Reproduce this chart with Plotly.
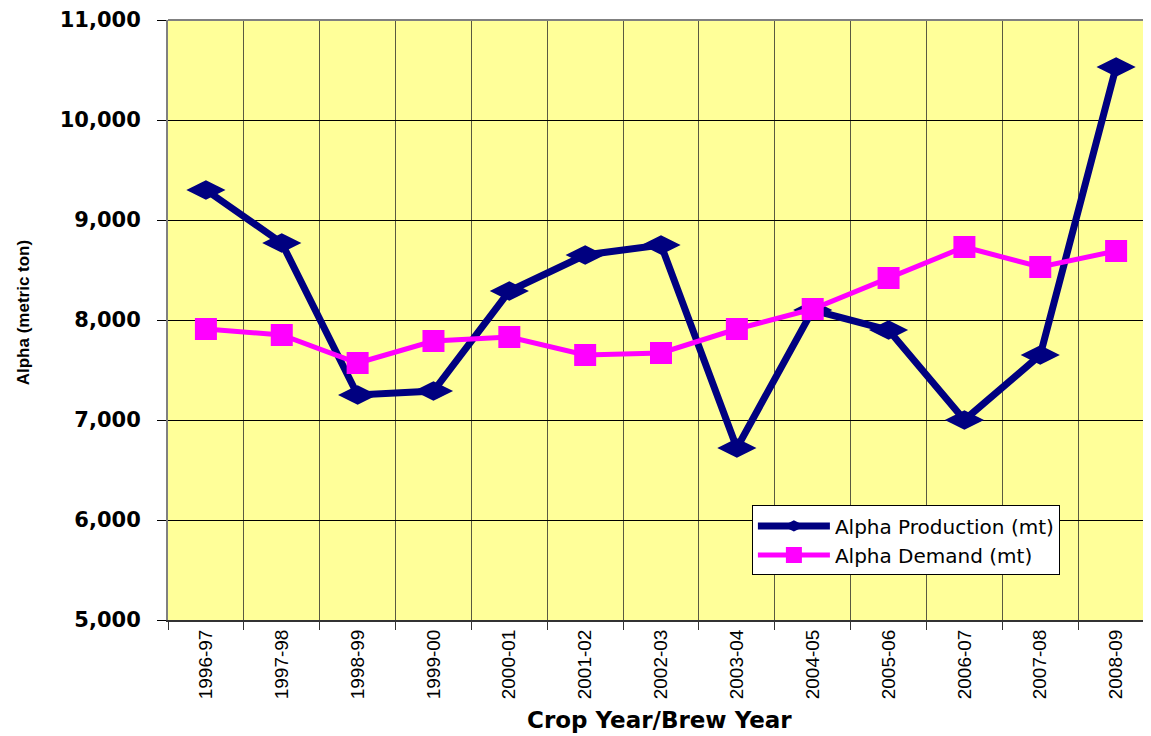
import plotly.graph_objects as go

years = ["1996-97", "1997-98", "1998-99", "1999-00", "2000-01", "2001-02", "2002-03",
         "2003-04", "2004-05", "2005-06", "2006-07", "2007-08", "2008-09"]
production = [9300, 8770, 7250, 7290, 8290, 8650, 8750, 6720, 8100, 7900, 7000, 7650, 10530]
demand = [7910, 7850, 7570, 7790, 7830, 7650, 7670, 7910, 8110, 8420, 8730, 8530, 8690]
y_ticks = [5000, 6000, 7000, 8000, 9000, 10000, 11000]

fig = go.Figure()
fig.add_trace(go.Scatter(
    x=years, y=production, mode="lines+markers", name="Alpha Production (mt)",
    line=dict(color="#000080", width=7),
    marker=dict(symbol="diamond-wide", size=28, color="#000080"),
))
fig.add_trace(go.Scatter(
    x=years, y=demand, mode="lines+markers", name="Alpha Demand (mt)",
    line=dict(color="#FF00FF", width=5),
    marker=dict(symbol="square", size=22, color="#FF00FF"),
))

fig.update_layout(
    width=1143, height=728,
    margin=dict(l=160, r=0, t=10, b=116),
    paper_bgcolor="white",
    plot_bgcolor="#FFFF99",
    showlegend=True,
    legend=dict(
        x=0.594, y=0.191, xanchor="left", yanchor="top",
        bgcolor="white", bordercolor="black", borderwidth=1,
        font=dict(family="DejaVu Sans", size=20, color="black"),
        itemwidth=72, tracegroupgap=0,
    ),
    xaxis=dict(
        type="category", range=[-0.5, 12.46], tickson="boundaries",
        showgrid=True, gridcolor="#5a5a40", gridwidth=1,
        showline=True, linecolor="#333333", linewidth=2,
        ticks="outside", ticklen=8, tickcolor="#333333",
        tickangle=-90,
        tickfont=dict(family="Liberation Sans", size=19, color="black"),
        zeroline=False,
    ),
    yaxis=dict(
        range=[5000, 11000], tickvals=y_ticks, tickformat=",",
        showgrid=True, gridcolor="#000000", gridwidth=1,
        showline=True, linecolor="#808080", linewidth=2,
        ticks="outside", ticklen=9, tickcolor="black",
        ticklabelstandoff=12, ticklabeloverflow="allow",
        tickfont=dict(family="DejaVu Sans", size=21, color="black", weight="bold"),
        zeroline=False,
    ),
    shapes=[dict(type="line", xref="paper", yref="paper", x0=0, x1=1, y0=1, y1=1,
                 line=dict(color="#808080", width=2))],
    annotations=[
        dict(text="<b>Alpha (metric ton)</b>", xref="paper", yref="paper",
             x=-0.147, y=0.512, xanchor="center", yanchor="middle", textangle=-90,
             showarrow=False, font=dict(family="Liberation Sans", size=17, color="black")),
        dict(text="<b>Crop Year/Brew Year</b>", xref="paper", yref="paper",
             x=0.5, y=-0.166, xanchor="center", yanchor="middle",
             showarrow=False, font=dict(family="DejaVu Sans", size=23, color="black")),
    ],
)

fig.write_html("out.html")
